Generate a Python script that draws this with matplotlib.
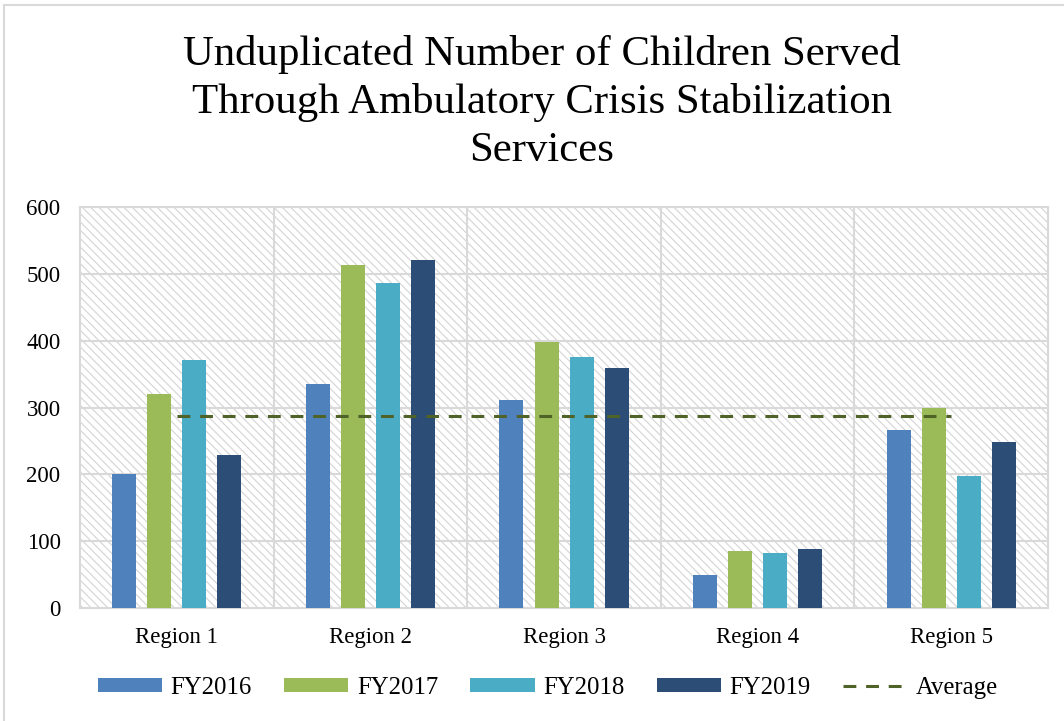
import numpy as np
import matplotlib
matplotlib.use("Agg")
import matplotlib.pyplot as plt
from matplotlib.lines import Line2D
from matplotlib.patches import Rectangle

plt.rcParams['font.family'] = ['Liberation Serif', 'DejaVu Serif']
plt.rcParams['hatch.color'] = '#d4d4d4'
plt.rcParams['hatch.linewidth'] = 0.8

regions = ["Region 1", "Region 2", "Region 3", "Region 4", "Region 5"]
fy2016 = [200, 335, 311, 49, 267]
fy2017 = [320, 513, 398, 86, 299]
fy2018 = [371, 487, 375, 82, 198]
fy2019 = [229, 520, 359, 88, 248]
average = [287, 287, 287, 287, 287]

series = [("FY2016", fy2016, "#4F81BD"),
          ("FY2017", fy2017, "#9BBB59"),
          ("FY2018", fy2018, "#4BACC6"),
          ("FY2019", fy2019, "#2C4D75")]

fig = plt.figure(figsize=(10.64, 7.21), dpi=100)
ax = fig.add_axes([0.0752, 0.1567, 0.9098, 0.5562])

# hatched plot area
ax.add_patch(Rectangle((0, 0), 1, 1, transform=ax.transAxes, facecolor='white',
                       edgecolor='#d4d4d4', hatch='\\\\\\\\', lw=0, zorder=0))

x = np.arange(len(regions))
step = 0.181
w = 0.124
handles = []
for i, (name, vals, col) in enumerate(series):
    b = ax.bar(x + (i - 1.5) * step, vals, width=w, color=col, label=name, zorder=3)
    handles.append(b)

ln, = ax.plot(x, average, color='#4F6228', lw=2.2, dashes=(4.2, 3.2),
              dash_capstyle='butt', label='Average', zorder=4)
handles.append(ln)

ax.set_xlim(-0.5, 4.5)
ax.set_ylim(0, 600)
ax.set_yticks(range(0, 601, 100))
ax.set_xticks(x)
ax.set_xticklabels(regions)
ax.tick_params(length=0, labelsize=16.5)
ax.tick_params(axis='y', pad=14)
ax.tick_params(axis='x', pad=14)

for yv in range(100, 601, 100):
    ax.axhline(yv, color='#d9d9d9', lw=1.5, zorder=1)
for xv in np.arange(0.5, 4.5, 1.0):
    ax.axvline(xv, color='#d9d9d9', lw=1.5, zorder=1)
for s in ax.spines.values():
    s.set_color('#d9d9d9')
    s.set_linewidth(1.5)

fig.text(0.509, 0.951, "Unduplicated Number of Children Served\n"
         "Through Ambulatory Crisis Stabilization\nServices",
         ha='center', va='top', fontsize=30.8, linespacing=1.3)

fig.legend(handles=handles, loc='center', bbox_to_anchor=(0.515, 0.046), ncol=5,
           frameon=False, fontsize=17.8, handlelength=2.6, handleheight=0.5,
           handletextpad=0.35, columnspacing=1.3)

# outer chart border
fig.add_artist(Line2D([0.0035, 0.0035], [0, 0.993], color='#d9d9d9', lw=1.5))
fig.add_artist(Line2D([0.0035, 1.0], [0.993, 0.993], color='#d9d9d9', lw=1.5))

fig.savefig("out.png", dpi=100)
